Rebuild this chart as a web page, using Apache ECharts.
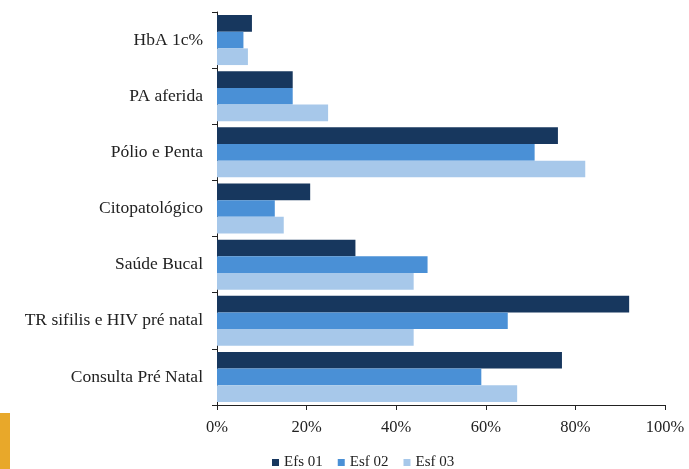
<!DOCTYPE html>
<html><head><meta charset="utf-8">
<script src="https://cdn.jsdelivr.net/npm/echarts@6/dist/echarts.min.js"></script>
<style>html,body{margin:0;padding:0;background:#fff}#c{width:689px;height:469px}</style>
</head><body><div id="c"></div>
<script>
const categories = ['HbA 1c%', 'PA aferida', 'Pólio e Penta', 'Citopatológico', 'Saúde Bucal', 'TR sifilis e HIV pré natal', 'Consulta Pré Natal'];
const seriesNames = ['Efs 01', 'Esf 02', 'Esf 03'];
const efs01 = [7.8, 16.9, 76.1, 20.8, 30.9, 92.0, 77.0];
const esf02 = [5.9, 16.9, 70.9, 12.9, 47.0, 64.9, 59.0];
const esf03 = [6.9, 24.8, 82.2, 14.9, 43.9, 43.9, 67.0];
const xTicks = [0, 20, 40, 60, 80, 100];

const colors = ['#17375e', '#4a90d6', '#a7c8ea'];
const font = 'Liberation Serif';
const chart = echarts.init(document.getElementById('c'));
chart.setOption({
  animation: false,
  color: colors,
  grid: {left: 217, right: 24, top: 12, bottom: 64, containLabel: false},
  legend: {
    top: 450, left: 267, itemWidth: 7, itemHeight: 7, itemGap: 15,
    icon: 'rect',
    textStyle: {fontFamily: font, fontSize: 15, color: '#222'},
    data: seriesNames
  },
  xAxis: {
    type: 'value', min: xTicks[0], max: xTicks[xTicks.length - 1], interval: 20,
    axisLine: {show: true, lineStyle: {color: '#222', width: 1}},
    axisTick: {show: true, length: 5, lineStyle: {color: '#222'}},
    splitLine: {show: false},
    axisLabel: {formatter: '{value}%', fontFamily: font, fontSize: 16.5, color: '#222', margin: 14}
  },
  yAxis: {
    type: 'category', inverse: true, data: categories,
    axisLine: {show: true, lineStyle: {color: '#222', width: 1}},
    axisTick: {show: true, length: 5, lineStyle: {color: '#222'}},
    axisLabel: {fontFamily: font, fontSize: 17.5, color: '#222', margin: 14}
  },
  series: [
    {name: seriesNames[0], type: 'bar', data: efs01, barGap: '0%', barCategoryGap: '11%'},
    {name: seriesNames[1], type: 'bar', data: esf02, barGap: '0%', barCategoryGap: '11%'},
    {name: seriesNames[2], type: 'bar', data: esf03, barGap: '0%', barCategoryGap: '11%'}
  ],
  graphic: [{type: 'rect', shape: {x: 0, y: 413, width: 10, height: 56}, style: {fill: '#e8a82a'}}]
});
</script></body></html>
